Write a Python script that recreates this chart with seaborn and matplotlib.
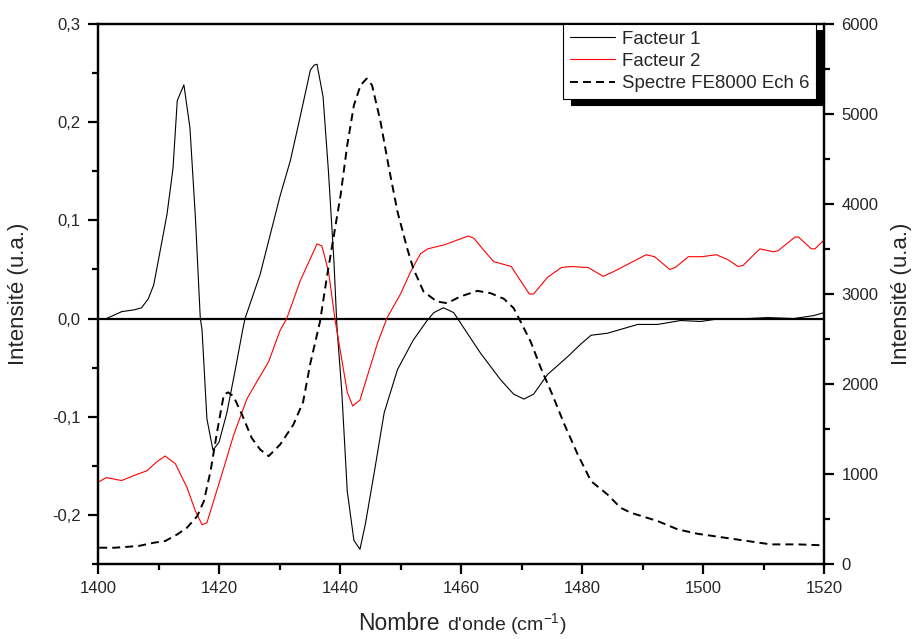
import matplotlib
matplotlib.use("Agg")
import matplotlib.pyplot as plt
from matplotlib.ticker import MultipleLocator, FuncFormatter
import seaborn as sns

# data
f1_x = [1401.4, 1403.9, 1406.1, 1407.2, 1408.3, 1409.2, 1410.0, 1411.4, 1412.4, 1413.1,
        1414.2, 1415.2, 1416.1, 1416.9, 1417.2, 1418.0, 1419.0, 1420.0, 1421.3, 1422.6,
        1423.9, 1424.3, 1426.8, 1430.1, 1431.8, 1433.4, 1435.1, 1435.7, 1436.2, 1437.2,
        1438.1, 1439.0, 1439.5, 1440.3, 1441.2, 1442.3, 1443.3, 1444.2, 1445.6, 1447.3,
        1449.5, 1452.1, 1454.4, 1455.5, 1457.1, 1458.8, 1460.4, 1463.2, 1466.5, 1468.7,
        1470.4, 1472.0, 1474.3, 1477.6, 1479.8, 1481.5, 1484.2, 1489.2, 1492.5, 1496.3,
        1499.6, 1502.9, 1507.4, 1510.7, 1515.0, 1518.3, 1520.0]
f1_y = [0.000, 0.007, 0.009, 0.011, 0.020, 0.034, 0.060, 0.106, 0.153, 0.222,
        0.238, 0.194, 0.103, 0.001, -0.012, -0.102, -0.134, -0.126, -0.096, -0.055,
        -0.012, 0.000, 0.045, 0.125, 0.161, 0.205, 0.253, 0.258, 0.259, 0.226,
        0.149, 0.058, -0.009, -0.075, -0.176, -0.226, -0.235, -0.209, -0.159, -0.096,
        -0.052, -0.022, -0.002, 0.006, 0.011, 0.006, -0.009, -0.035, -0.062, -0.077,
        -0.082, -0.077, -0.057, -0.039, -0.026, -0.017, -0.015, -0.006, -0.006, -0.002,
        -0.003, 0.000, 0.000, 0.001, 0.000, 0.003, 0.006]

f2_x = [1400.2, 1401.4, 1403.9, 1405.9, 1408.1, 1409.7, 1411.1, 1412.8, 1414.7, 1416.1,
        1417.2, 1418.0, 1419.1, 1420.8, 1422.4, 1424.6, 1426.0, 1428.2, 1430.1, 1431.2,
        1433.4, 1436.2, 1437.0, 1438.1, 1439.2, 1440.3, 1441.2, 1442.1, 1443.3, 1444.5,
        1446.2, 1447.8, 1450.0, 1451.7, 1453.3, 1454.5, 1457.2, 1459.4, 1461.2, 1462.1,
        1463.7, 1465.4, 1466.6, 1468.3, 1469.9, 1471.3, 1472.0, 1474.3, 1476.6, 1478.2,
        1481.0, 1483.5, 1485.3, 1488.1, 1490.6, 1492.0, 1494.5, 1495.4, 1497.6, 1499.8,
        1502.2, 1504.1, 1505.8, 1506.6, 1509.4, 1511.6, 1512.4, 1515.2, 1515.8, 1517.9,
        1518.5, 1520.0]
f2_y = [-0.166, -0.162, -0.165, -0.160, -0.155, -0.146, -0.140, -0.148, -0.172, -0.196,
        -0.210, -0.208, -0.186, -0.152, -0.119, -0.082, -0.067, -0.044, -0.012, 0.000,
        0.038, 0.076, 0.074, 0.048, -0.002, -0.042, -0.075, -0.089, -0.083, -0.059,
        -0.025, 0.001, 0.025, 0.048, 0.066, 0.071, 0.075, 0.080, 0.084, 0.082,
        0.070, 0.058, 0.056, 0.053, 0.038, 0.025, 0.025, 0.042, 0.052, 0.053,
        0.052, 0.043, 0.048, 0.057, 0.065, 0.063, 0.050, 0.052, 0.063, 0.063,
        0.065, 0.060, 0.053, 0.054, 0.071, 0.068, 0.069, 0.083, 0.083, 0.071,
        0.071, 0.080]

sp_x = [1400.2, 1402.8, 1406.7, 1409.2, 1411.1, 1413.1, 1414.7, 1416.4, 1417.5, 1418.6,
        1419.7, 1420.8, 1421.5, 1422.4, 1423.8, 1425.4, 1426.8, 1428.2, 1430.1, 1432.3,
        1433.9, 1435.1, 1436.7, 1437.8, 1439.0, 1440.1, 1441.2, 1442.3, 1443.4, 1444.4,
        1445.3, 1446.7, 1448.1, 1449.5, 1451.1, 1452.1, 1453.8, 1456.0, 1457.7, 1459.9,
        1462.7, 1464.9, 1467.1, 1468.7, 1469.8, 1471.5, 1473.2, 1475.1, 1477.1, 1479.3,
        1481.5, 1484.2, 1486.4, 1488.1, 1492.5, 1495.8, 1499.1, 1502.9, 1507.4, 1511.2,
        1515.7, 1520.0]
sp_y = [181, 181, 200, 236, 255, 329, 403, 532, 699, 1031,
        1475, 1882, 1907, 1863, 1660, 1401, 1272, 1198, 1327, 1549,
        1800, 2230, 2695, 3175, 3656, 4100, 4655, 5098, 5320, 5393,
        5320, 4913, 4395, 3915, 3508, 3286, 3028, 2917, 2898, 2972,
        3035, 3009, 2946, 2843, 2700, 2473, 2177, 1882, 1549, 1216,
        920, 773, 624, 569, 477, 385, 336, 299, 255, 218,
        218, 207]

sns.set_style("ticks")
plt.rcParams['font.family'] = ['Liberation Sans', 'DejaVu Sans']
plt.rcParams['mathtext.default'] = 'regular'

fig = plt.figure(figsize=(9.14, 6.39), dpi=100)
ax = fig.add_axes([98/914, 1-564/639, 726/914, 540/639])
ax2 = ax.twinx()

sns.lineplot(x=f1_x, y=f1_y, ax=ax, color="black", lw=0.8, label="Facteur 1",
             sort=False, estimator=None, legend=False)
sns.lineplot(x=f2_x, y=f2_y, ax=ax, color="#ff0000", lw=0.8, label="Facteur 2",
             sort=False, estimator=None, legend=False)
ax.axhline(0, color="black", lw=1.6, zorder=1)
sns.lineplot(x=sp_x, y=sp_y, ax=ax2, color="black", lw=1.4, label="Spectre FE8000 Ech 6",
             sort=False, estimator=None, legend=False, dashes=False)
ax2.lines[0].set_dashes([4.1, 2.6])

ax.set_xlim(1400, 1520)
ax.set_ylim(-0.25, 0.3)
ax2.set_ylim(0, 6000)

ax.xaxis.set_major_locator(MultipleLocator(20))
ax.xaxis.set_minor_locator(MultipleLocator(10))
ax.yaxis.set_major_locator(MultipleLocator(0.1))
ax.yaxis.set_minor_locator(MultipleLocator(0.05))
ax.yaxis.set_major_formatter(FuncFormatter(lambda v, p: f"{v:.1f}".replace(".", ",").replace("-0,0", "0,0")))
ax2.yaxis.set_major_locator(MultipleLocator(1000))
ax2.yaxis.set_minor_locator(MultipleLocator(500))

for a in (ax, ax2):
    for s in a.spines.values():
        s.set_linewidth(1.6)
        s.set_color("black")
    a.tick_params(which="major", direction="out", length=7.5, width=1.6, labelsize=12, pad=5, color="black")
    a.tick_params(which="minor", direction="out", length=4, width=1.6, color="black")
ax.tick_params(axis="x", which="both", top=False)
ax.tick_params(axis="y", which="both", right=False)

ax.set_xlabel("")
ax.set_ylabel("Intensité (u.a.)", fontsize=16)
ax.yaxis.set_label_coords(-0.095, 0.5)
ax2.set_ylabel("Intensité (u.a.)", fontsize=16)
ax2.yaxis.set_label_coords(1.092, 0.5)

fig.text(440/914, 9/639, "Nombre", fontsize=16.5, ha="right", va="baseline")
fig.text(447/914, 9/639, "d'onde (cm$^{-1}$)", fontsize=14, ha="left", va="baseline")

handles = ax.get_lines()[:2] + ax2.get_lines()[:1]
leg = ax2.legend(handles, [h.get_label() for h in handles], loc="upper right",
                 bbox_to_anchor=(1 - 8/726, 1), borderaxespad=0, fontsize=13.4,
                 fancybox=False, framealpha=1, edgecolor="black", handlelength=2.4,
                 handletextpad=0.4, labelspacing=0.28, borderpad=0.35,
                 shadow={"ox": 5.8, "oy": -4.5, "color": "black", "alpha": 1})
leg.get_frame().set_linewidth(0.8)

fig.savefig("out.png", dpi=100)
